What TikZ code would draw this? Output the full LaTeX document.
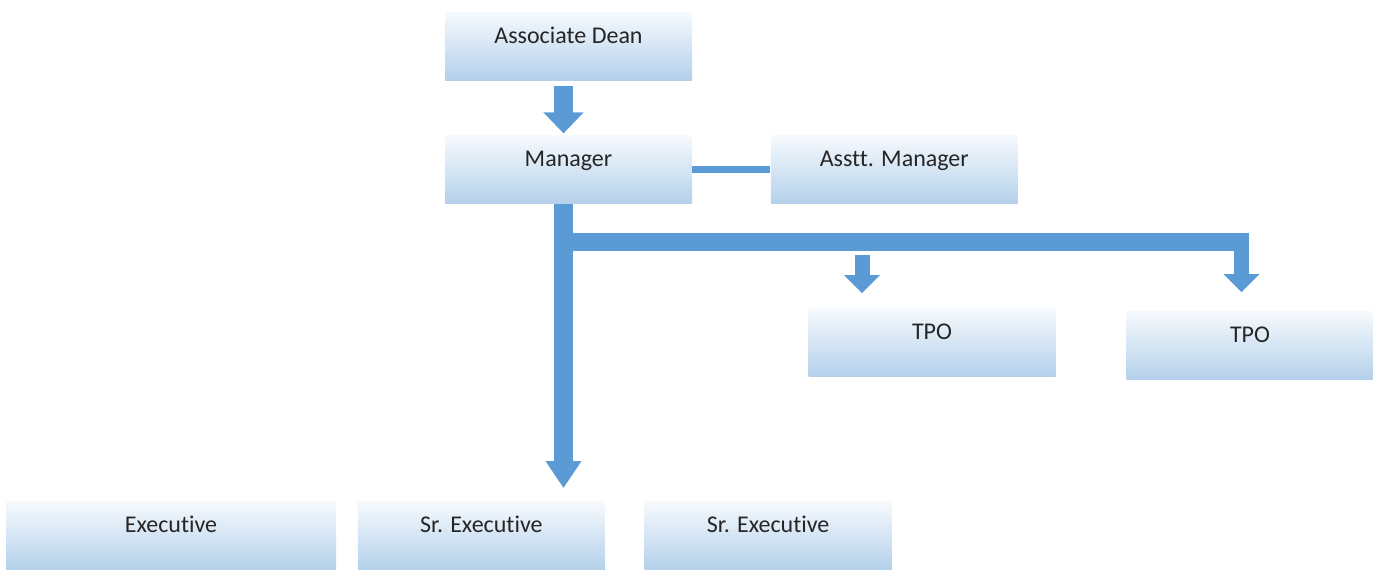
\documentclass[tikz,border=0pt]{standalone}
\usepackage{fontspec}
\setmainfont{Carlito}[Ligatures=NoCommon]
\usepackage{tikz}
\usetikzlibrary {arrows.meta,
                 positioning}
\definecolor{arrowblue}{HTML}{5B9BD5}
\definecolor{boxtop}{HTML}{F6FAFD}
\definecolor{boxbot}{HTML}{B4D0EB}
\definecolor{txtgray}{HTML}{262626}
\tikzset{
        post/.style={rectangle, inner sep=0pt, minimum width=123.5pt,
                     text height=15.5pt, text depth=18.5pt,
                     top color=boxtop, bottom color=boxbot, text=txtgray,
                     font=\fontsize{12}{14}\selectfont},
        widepost/.style={post, minimum width=165pt},
        fatarrow/.style={draw=arrowblue, line width=9.5pt,
                         -{Triangle[width=19.5pt,length=10.5pt]}},
        droparrow/.style={draw=arrowblue, line width=7.5pt,
                          -{Triangle[width=17.5pt,length=9pt]}},
        bus/.style={draw=arrowblue, line width=9pt},
        link/.style={draw=arrowblue, line width=3.5pt},
 }

\begin{document}
\begin{tikzpicture}[x=0.5pt, y=-0.5pt]
    \useasboundingbox (0,0) rectangle (1373,569);

    \node[post] (dean) at (568.5,46) {Associate Dean};
    \node[post, below=27.5pt of dean] (mgr) {Manager};
    \node[post, right=39pt of mgr] (asst) {Asstt. Manager};
    \node[post] (tpo1) at (932,342.5) {TPO};
    \node[post] (tpo2) at (1250,345.5) {TPO};
    \node[widepost] (exec) at (171,535.5) {Executive};
    \node[post, right=10.5pt of exec] (srexa) {Sr. Executive};
    \node[post, right=19.5pt of srexa] (srexb) {Sr. Executive};

    \coordinate (busl) at (573,242);
    \coordinate (busr) at (1249,242);
    \coordinate (drop1) at (862,242);
    \coordinate (drop2) at (1241.5,242);

    \draw[fatarrow, shorten <=3pt, shorten >=1pt]
        ([xshift=-2.5pt]dean.south) -- ([xshift=-2.5pt]mgr.north);
    \draw[link] (mgr) -- (asst);
    \draw[fatarrow, -{Triangle[width=17pt,length=13.5pt]}, shorten >=6.5pt]
        ([xshift=-2.5pt]mgr.south) -- ([xshift=-2.5pt]mgr.south |- srexa.north);
    \draw[bus] (busl) -- (busr);
    \draw[droparrow, shorten <=6.5pt, shorten >=7.5pt] (drop1) -- (drop1 |- tpo1.north);
    \draw[droparrow, shorten <=4.5pt, shorten >=9.5pt] (drop2) -- (drop2 |- tpo2.north);
\end{tikzpicture}
\end{document}
